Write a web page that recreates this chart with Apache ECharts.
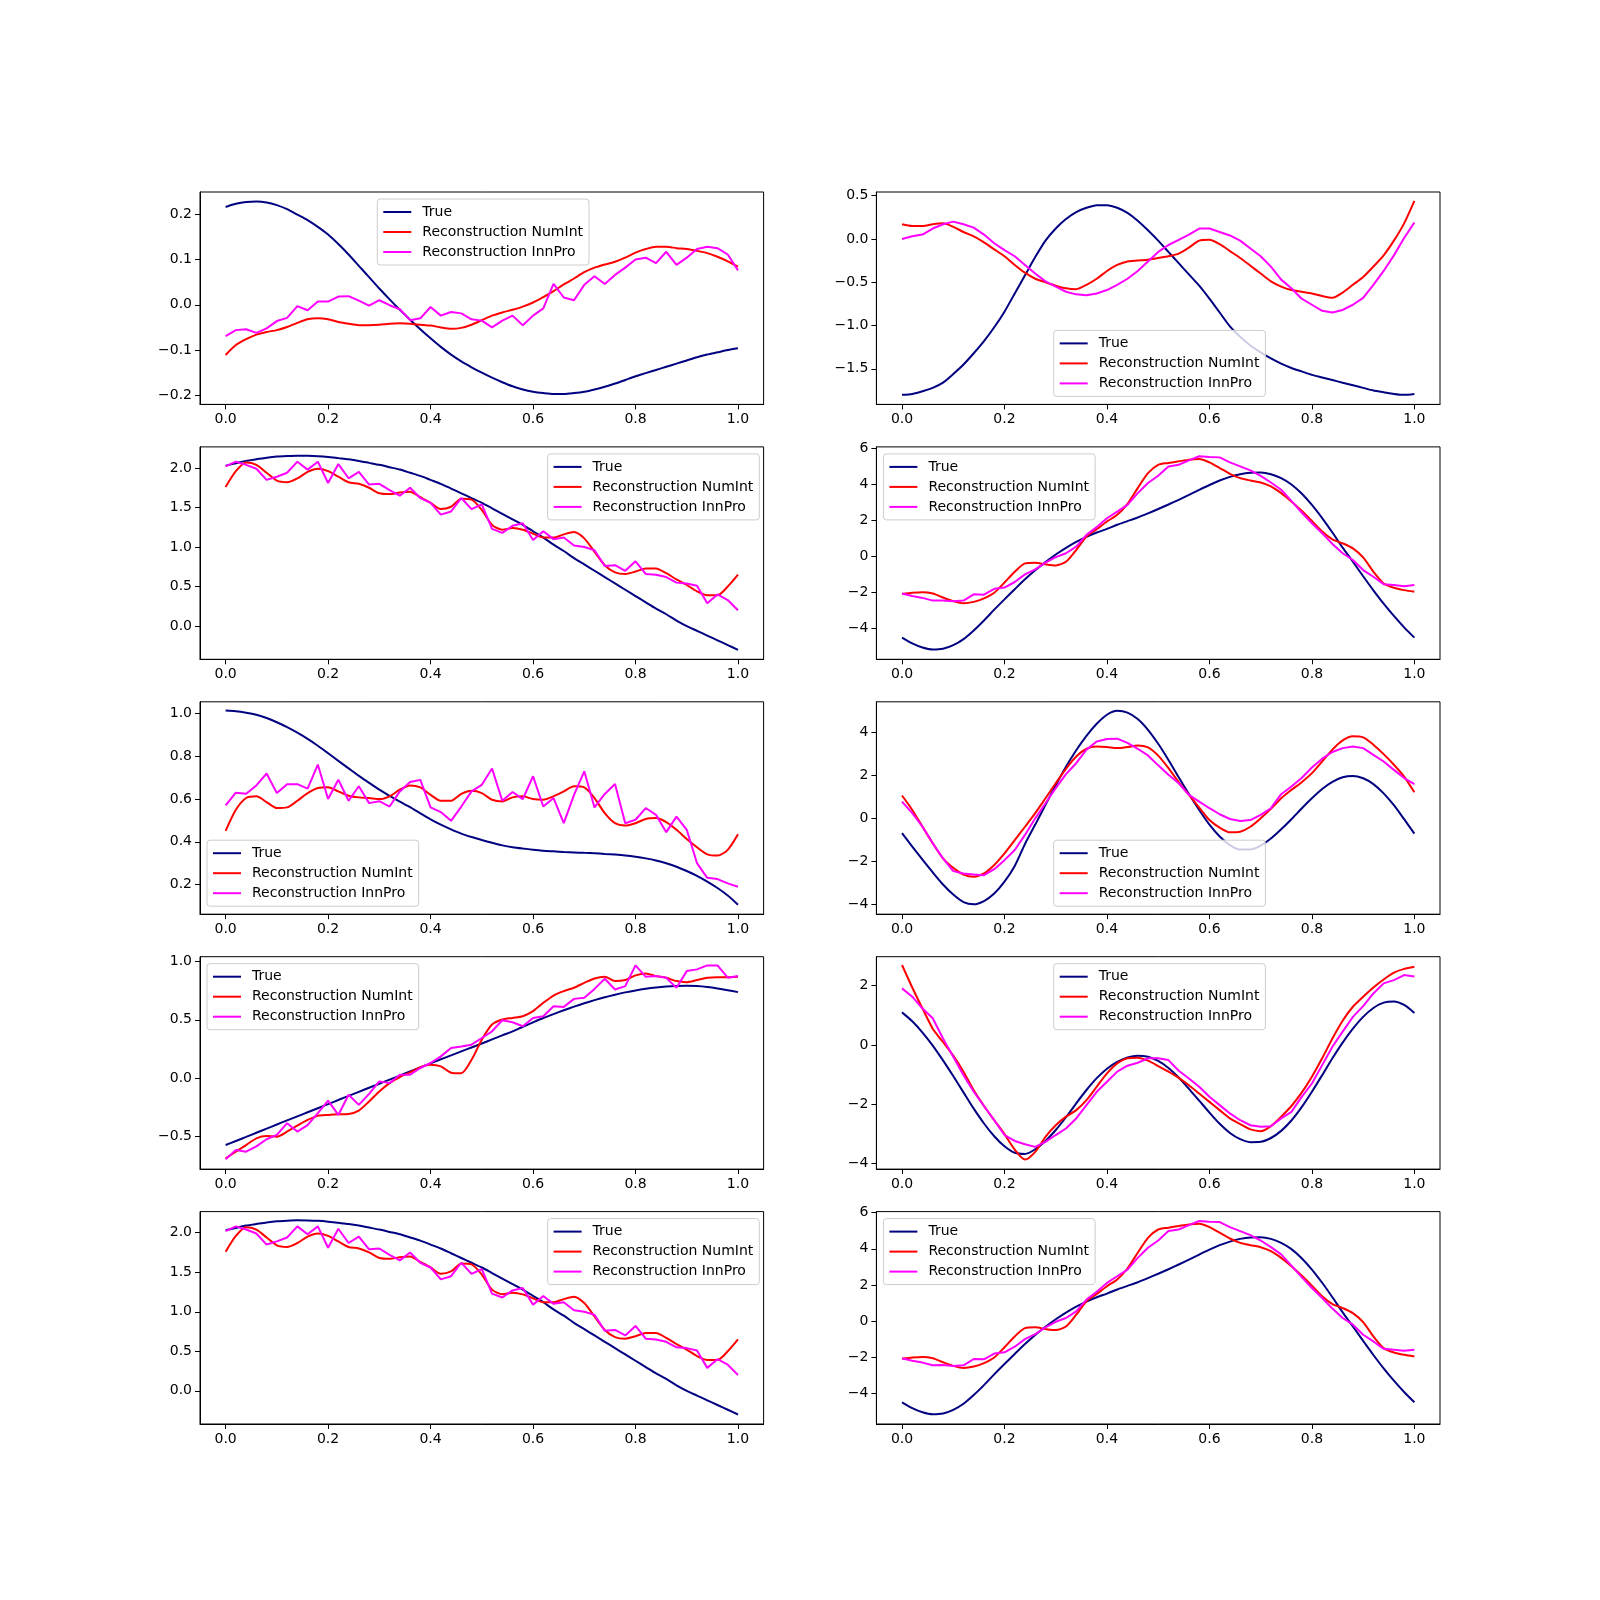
<!DOCTYPE html>
<html>
<head>
<meta charset="utf-8">
<script src="https://cdn.jsdelivr.net/npm/echarts@6/dist/echarts.min.js"></script>
<style>
html, body { margin: 0; padding: 0; background: #fff; }
#chart { width: 1600px; height: 1600px; }
</style>
</head>
<body>
<div id="chart"></div>
<script>
// sample positions shared by every curve
var xs = [0, 0.02, 0.04, 0.06, 0.08, 0.1, 0.12, 0.14, 0.16, 0.18, 0.2, 0.22, 0.24, 0.26, 0.28, 0.3, 0.32, 0.34, 0.36, 0.38,
  0.4, 0.42, 0.44, 0.46, 0.48, 0.5, 0.52, 0.54, 0.56, 0.58, 0.6, 0.62, 0.64, 0.66, 0.68, 0.7, 0.72, 0.74, 0.76, 0.78,
  0.8, 0.82, 0.84, 0.86, 0.88, 0.9, 0.92, 0.94, 0.96, 0.98, 1.0];

// row 1 left
var trueA = [0.216, 0.223, 0.227, 0.228, 0.226, 0.220, 0.211, 0.199, 0.187, 0.172, 0.155, 0.134, 0.111, 0.086, 0.061, 0.036, 0.012, -0.011, -0.033, -0.054,
  -0.074, -0.093, -0.110, -0.125, -0.138, -0.150, -0.161, -0.171, -0.180, -0.187, -0.192, -0.195, -0.197, -0.197, -0.195, -0.192, -0.187, -0.181, -0.174, -0.166,
  -0.158, -0.151, -0.144, -0.137, -0.130, -0.123, -0.116, -0.110, -0.105, -0.100, -0.096];
var numIntA = [-0.111, -0.089, -0.076, -0.066, -0.060, -0.056, -0.049, -0.040, -0.032, -0.030, -0.032, -0.038, -0.042, -0.045, -0.045, -0.044, -0.042, -0.041, -0.042, -0.044,
  -0.046, -0.050, -0.053, -0.051, -0.044, -0.034, -0.024, -0.017, -0.011, -0.004, 0.005, 0.017, 0.030, 0.045, 0.058, 0.072, 0.082, 0.089, 0.095, 0.104,
  0.115, 0.123, 0.128, 0.128, 0.125, 0.123, 0.119, 0.114, 0.106, 0.096, 0.084];
var innProA = [-0.069, -0.056, -0.054, -0.062, -0.052, -0.036, -0.029, -0.003, -0.012, 0.007, 0.007, 0.018, 0.019, 0.009, -0.002, 0.010, -0.001, -0.010, -0.034, -0.030,
  -0.005, -0.024, -0.016, -0.019, -0.032, -0.035, -0.050, -0.035, -0.024, -0.045, -0.024, -0.008, 0.046, 0.016, 0.010, 0.044, 0.063, 0.046, 0.066, 0.082,
  0.100, 0.104, 0.092, 0.117, 0.088, 0.104, 0.123, 0.128, 0.125, 0.111, 0.076];

// row 1 right
var trueB = [-1.80, -1.79, -1.76, -1.72, -1.66, -1.56, -1.45, -1.32, -1.18, -1.02, -0.84, -0.63, -0.42, -0.21, -0.02, 0.12, 0.23, 0.31, 0.36, 0.39,
  0.39, 0.36, 0.30, 0.21, 0.10, -0.02, -0.15, -0.28, -0.41, -0.54, -0.69, -0.85, -1.01, -1.13, -1.23, -1.31, -1.38, -1.44, -1.49, -1.53,
  -1.57, -1.60, -1.63, -1.66, -1.69, -1.72, -1.75, -1.77, -1.79, -1.80, -1.79];
var numIntB = [0.17, 0.15, 0.15, 0.17, 0.18, 0.14, 0.08, 0.03, -0.04, -0.12, -0.20, -0.30, -0.39, -0.46, -0.50, -0.54, -0.57, -0.58, -0.53, -0.46,
  -0.37, -0.30, -0.26, -0.25, -0.24, -0.22, -0.20, -0.17, -0.10, -0.02, -0.01, -0.06, -0.14, -0.22, -0.31, -0.40, -0.49, -0.55, -0.59, -0.61,
  -0.63, -0.66, -0.68, -0.62, -0.53, -0.44, -0.32, -0.19, -0.02, 0.18, 0.44];
var innProB = [0.00, 0.03, 0.05, 0.12, 0.17, 0.20, 0.17, 0.13, 0.05, -0.05, -0.13, -0.20, -0.30, -0.40, -0.49, -0.55, -0.61, -0.64, -0.65, -0.63,
  -0.59, -0.53, -0.46, -0.37, -0.26, -0.15, -0.07, -0.01, 0.05, 0.12, 0.12, 0.08, 0.04, -0.02, -0.11, -0.20, -0.32, -0.47, -0.57, -0.69,
  -0.76, -0.83, -0.85, -0.82, -0.76, -0.68, -0.53, -0.37, -0.19, 0.01, 0.19];

// row 2 left (repeated in row 5)
var trueC = [2.03, 2.06, 2.09, 2.11, 2.13, 2.145, 2.152, 2.156, 2.155, 2.15, 2.14, 2.125, 2.11, 2.09, 2.065, 2.04, 2.01, 1.98, 1.94, 1.90,
  1.85, 1.80, 1.74, 1.68, 1.62, 1.56, 1.49, 1.42, 1.35, 1.28, 1.20, 1.12, 1.03, 0.95, 0.86, 0.78, 0.70, 0.62, 0.54, 0.46,
  0.38, 0.30, 0.22, 0.15, 0.07, 0.00, -0.06, -0.12, -0.18, -0.24, -0.30];
var numIntC = [1.76, 1.96, 2.07, 2.04, 1.94, 1.84, 1.82, 1.87, 1.95, 1.99, 1.96, 1.89, 1.82, 1.80, 1.75, 1.68, 1.67, 1.69, 1.70, 1.63,
  1.56, 1.48, 1.51, 1.61, 1.60, 1.47, 1.28, 1.22, 1.24, 1.22, 1.17, 1.12, 1.12, 1.16, 1.19, 1.11, 0.94, 0.77, 0.68, 0.66,
  0.69, 0.73, 0.73, 0.67, 0.59, 0.52, 0.44, 0.39, 0.39, 0.50, 0.65];
var innProC = [2.02, 2.08, 2.04, 1.99, 1.85, 1.89, 1.94, 2.08, 1.98, 2.08, 1.81, 2.05, 1.87, 1.95, 1.79, 1.80, 1.72, 1.65, 1.75, 1.62,
  1.56, 1.41, 1.45, 1.62, 1.48, 1.54, 1.23, 1.18, 1.27, 1.30, 1.09, 1.20, 1.10, 1.12, 1.02, 1.00, 0.96, 0.76, 0.77, 0.70,
  0.82, 0.66, 0.65, 0.62, 0.55, 0.54, 0.51, 0.29, 0.40, 0.33, 0.20];

// row 2 right (repeated in row 5)
var trueD = [-4.50, -4.82, -5.05, -5.16, -5.12, -4.92, -4.58, -4.10, -3.55, -2.95, -2.38, -1.82, -1.27, -0.77, -0.32, 0.10, 0.47, 0.80, 1.08, 1.32,
  1.52, 1.75, 1.95, 2.15, 2.38, 2.62, 2.87, 3.13, 3.40, 3.68, 3.95, 4.20, 4.40, 4.55, 4.63, 4.64, 4.55, 4.33, 3.98, 3.48,
  2.85, 2.12, 1.32, 0.48, -0.30, -1.10, -1.88, -2.62, -3.30, -3.93, -4.50];
var numIntD = [-2.09, -2.02, -1.99, -2.06, -2.28, -2.48, -2.60, -2.52, -2.33, -2.02, -1.45, -0.85, -0.39, -0.35, -0.44, -0.50, -0.30, 0.35, 1.10, 1.50,
  1.93, 2.30, 2.91, 3.78, 4.61, 5.07, 5.17, 5.26, 5.35, 5.39, 5.20, 4.89, 4.57, 4.33, 4.20, 4.09, 3.87, 3.50, 3.04, 2.52,
  1.96, 1.37, 0.94, 0.72, 0.44, -0.06, -0.85, -1.50, -1.74, -1.87, -1.96];
var innProD = [-2.06, -2.20, -2.30, -2.45, -2.44, -2.49, -2.45, -2.10, -2.12, -1.80, -1.73, -1.42, -1.00, -0.72, -0.35, -0.04, 0.17, 0.54, 1.19, 1.62,
  2.11, 2.48, 2.85, 3.50, 4.06, 4.46, 4.98, 5.07, 5.31, 5.54, 5.50, 5.48, 5.20, 4.98, 4.76, 4.46, 4.09, 3.69, 3.07, 2.43,
  1.83, 1.28, 0.69, 0.17, -0.20, -0.76, -1.13, -1.54, -1.59, -1.65, -1.59];

// row 3 left
var trueE = [1.015, 1.012, 1.005, 0.995, 0.980, 0.960, 0.937, 0.911, 0.882, 0.850, 0.815, 0.779, 0.744, 0.709, 0.676, 0.644, 0.615, 0.588, 0.562, 0.533,
  0.505, 0.480, 0.458, 0.438, 0.422, 0.408, 0.395, 0.383, 0.374, 0.368, 0.363, 0.358, 0.355, 0.352, 0.350, 0.348, 0.346, 0.343, 0.340, 0.336,
  0.330, 0.322, 0.312, 0.299, 0.283, 0.263, 0.240, 0.213, 0.183, 0.148, 0.105];
var numIntE = [0.451, 0.55, 0.605, 0.613, 0.586, 0.558, 0.561, 0.592, 0.628, 0.652, 0.656, 0.636, 0.616, 0.608, 0.605, 0.60, 0.613, 0.644, 0.664, 0.655,
  0.62, 0.592, 0.592, 0.624, 0.639, 0.628, 0.597, 0.589, 0.608, 0.613, 0.60, 0.597, 0.613, 0.636, 0.66, 0.655, 0.605, 0.534, 0.487, 0.476,
  0.487, 0.507, 0.511, 0.492, 0.456, 0.413, 0.374, 0.341, 0.335, 0.362, 0.435];
var innProE = [0.57, 0.63, 0.625, 0.664, 0.72, 0.628, 0.67, 0.67, 0.649, 0.762, 0.60, 0.691, 0.592, 0.66, 0.581, 0.59, 0.565, 0.636, 0.68, 0.69,
  0.561, 0.539, 0.498, 0.565, 0.636, 0.667, 0.743, 0.592, 0.633, 0.60, 0.707, 0.565, 0.605, 0.487, 0.62, 0.73, 0.561, 0.624, 0.671, 0.487,
  0.503, 0.558, 0.526, 0.445, 0.518, 0.456, 0.30, 0.231, 0.225, 0.205, 0.189];

// row 3 right
var trueF = [-0.70, -1.32, -1.93, -2.52, -3.08, -3.55, -3.90, -4.00, -3.85, -3.50, -2.95, -2.22, -1.20, -0.30, 0.62, 1.52, 2.38, 3.15, 3.82, 4.38,
  4.80, 4.98, 4.90, 4.60, 4.10, 3.45, 2.70, 1.90, 1.12, 0.38, -0.30, -0.85, -1.25, -1.46, -1.46, -1.28, -0.95, -0.52, -0.05, 0.45,
  0.92, 1.35, 1.68, 1.90, 1.96, 1.85, 1.58, 1.15, 0.60, -0.05, -0.72];
var numIntF = [1.05, 0.38, -0.40, -1.17, -1.87, -2.31, -2.62, -2.72, -2.57, -2.18, -1.64, -1.02, -0.40, 0.23, 0.92, 1.62, 2.29, 2.86, 3.22, 3.33,
  3.30, 3.25, 3.30, 3.37, 3.28, 2.90, 2.32, 1.67, 1.08, 0.49, -0.09, -0.44, -0.66, -0.63, -0.40, -0.01, 0.43, 0.92, 1.31, 1.67,
  2.09, 2.63, 3.18, 3.61, 3.80, 3.75, 3.41, 2.97, 2.48, 1.93, 1.20];
var innProF = [0.77, 0.23, -0.40, -1.17, -1.87, -2.46, -2.57, -2.62, -2.65, -2.37, -1.95, -1.48, -0.78, -0.01, 0.69, 1.39, 2.04, 2.55, 3.18, 3.56,
  3.67, 3.69, 3.49, 3.22, 2.91, 2.45, 2.01, 1.62, 1.08, 0.77, 0.46, 0.18, -0.04, -0.13, -0.09, 0.15, 0.46, 1.11, 1.47, 1.86,
  2.35, 2.76, 3.07, 3.25, 3.33, 3.25, 2.94, 2.63, 2.24, 1.86, 1.58];

// row 4 left
var trueG = [-0.578, -0.543, -0.508, -0.472, -0.437, -0.401, -0.366, -0.331, -0.296, -0.261, -0.226, -0.190, -0.155, -0.120, -0.085, -0.050, -0.015, 0.020, 0.055, 0.090,
  0.125, 0.160, 0.194, 0.228, 0.262, 0.296, 0.331, 0.366, 0.40, 0.44, 0.478, 0.515, 0.549, 0.582, 0.613, 0.642, 0.669, 0.694, 0.716, 0.736,
  0.753, 0.767, 0.778, 0.786, 0.791, 0.793, 0.790, 0.782, 0.770, 0.755, 0.738];
var numIntG = [-0.692, -0.635, -0.578, -0.52, -0.50, -0.506, -0.462, -0.411, -0.362, -0.327, -0.319, -0.313, -0.31, -0.281, -0.203, -0.117, -0.045, 0.007, 0.047, 0.093,
  0.113, 0.099, 0.045, 0.040, 0.156, 0.329, 0.459, 0.502, 0.516, 0.531, 0.574, 0.646, 0.709, 0.747, 0.776, 0.818, 0.856, 0.87, 0.833, 0.842,
  0.882, 0.899, 0.876, 0.862, 0.833, 0.824, 0.842, 0.862, 0.867, 0.867, 0.87];
var innProG = [-0.70, -0.62, -0.635, -0.59, -0.528, -0.49, -0.39, -0.462, -0.407, -0.304, -0.195, -0.319, -0.145, -0.232, -0.137, -0.03, -0.045, 0.027, 0.027, 0.085,
  0.128, 0.185, 0.257, 0.271, 0.286, 0.343, 0.401, 0.496, 0.479, 0.444, 0.516, 0.531, 0.617, 0.611, 0.68, 0.689, 0.766, 0.853, 0.761, 0.79,
  0.968, 0.87, 0.876, 0.862, 0.775, 0.919, 0.934, 0.968, 0.968, 0.862, 0.876];

// row 4 right
var trueH = [1.10, 0.80, 0.42, -0.02, -0.52, -1.05, -1.60, -2.15, -2.65, -3.08, -3.42, -3.64, -3.68, -3.52, -3.24, -2.87, -2.44, -1.97, -1.52, -1.12,
  -0.80, -0.57, -0.42, -0.36, -0.40, -0.54, -0.78, -1.10, -1.48, -1.88, -2.28, -2.66, -2.97, -3.18, -3.28, -3.27, -3.14, -2.90, -2.55, -2.10,
  -1.58, -1.02, -0.45, 0.08, 0.55, 0.95, 1.25, 1.43, 1.47, 1.35, 1.08];
var numIntH = [2.70, 1.94, 1.23, 0.55, 0.10, -0.36, -0.90, -1.53, -2.06, -2.54, -3.01, -3.53, -3.87, -3.61, -3.10, -2.71, -2.42, -2.20, -1.86, -1.41,
  -0.96, -0.62, -0.45, -0.43, -0.53, -0.71, -0.90, -1.11, -1.36, -1.64, -1.92, -2.20, -2.48, -2.67, -2.85, -2.91, -2.74, -2.42, -2.06, -1.61,
  -1.07, -0.45, 0.22, 0.82, 1.29, 1.63, 1.94, 2.21, 2.44, 2.57, 2.64];
var innProH = [1.91, 1.63, 1.23, 0.90, 0.22, -0.40, -1.02, -1.58, -2.06, -2.54, -3.04, -3.24, -3.35, -3.44, -3.27, -3.04, -2.82, -2.48, -2.03, -1.58,
  -1.24, -0.90, -0.70, -0.60, -0.45, -0.45, -0.51, -0.87, -1.13, -1.41, -1.75, -2.03, -2.31, -2.54, -2.71, -2.76, -2.74, -2.48, -2.26, -1.75,
  -1.30, -0.68, -0.06, 0.45, 0.95, 1.31, 1.74, 2.08, 2.19, 2.36, 2.31];

// tick labels
var xTicks = [0, 0.2, 0.4, 0.6, 0.8, 1.0];
var yTicksA = [-0.2, -0.1, 0, 0.1, 0.2];
var yTicksB = [-1.5, -1.0, -0.5, 0, 0.5];
var yTicksC = [0, 0.5, 1.0, 1.5, 2.0];
var yTicksD = [-4, -2, 0, 2, 4, 6];
var yTicksE = [0.2, 0.4, 0.6, 0.8, 1.0];
var yTicksF = [-4, -2, 0, 2, 4];
var yTicksG = [-0.5, 0, 0.5, 1.0];
var yTicksH = [-4, -2, 0, 2];

var names = ['True', 'Reconstruction NumInt', 'Reconstruction InnPro'];
var colors = ['#000080', '#ff0000', '#ff00ff'];

var panels = [
  { lines: [trueA, numIntA, innProA], ylim: [-0.220, 0.249], ticks: yTicksA, dec: 1, loc: 'upper center' },
  { lines: [trueB, numIntB, innProB], ylim: [-1.911, 0.542], ticks: yTicksB, dec: 1, loc: 'lower center' },
  { lines: [trueC, numIntC, innProC], ylim: [-0.42, 2.267], ticks: yTicksC, dec: 1, loc: 'upper right' },
  { lines: [trueD, numIntD, innProD], ylim: [-5.70, 6.06], ticks: yTicksD, dec: 0, loc: 'upper left' },
  { lines: [trueE, numIntE, innProE], ylim: [0.0604, 1.056], ticks: yTicksE, dec: 1, loc: 'lower left' },
  { lines: [trueF, numIntF, innProF], ylim: [-4.46, 5.40], ticks: yTicksF, dec: 0, loc: 'lower center' },
  { lines: [trueG, numIntG, innProG], ylim: [-0.785, 1.043], ticks: yTicksG, dec: 1, loc: 'upper left' },
  { lines: [trueH, numIntH, innProH], ylim: [-4.19, 2.98], ticks: yTicksH, dec: 0, loc: 'upper center' },
  { lines: [trueC, numIntC, innProC], ylim: [-0.42, 2.267], ticks: yTicksC, dec: 1, loc: 'upper right' },
  { lines: [trueD, numIntD, innProD], ylim: [-5.70, 6.06], ticks: yTicksD, dec: 0, loc: 'upper left' }
];

var colLeft = [200, 876.4];
var rowTop = [192, 446.9, 701.8, 956.7, 1211.6];
var W = 563.6, H = 212.4;
var legW = 209, legH = 67, legPad = 7;
var font = 'DejaVu Sans';

function pairs(vals) {
  return xs.map(function (x, i) { return [x, vals[i]]; });
}
function fmt(dec) {
  return function (v) { return Number(v).toFixed(dec).replace('-', '\u2212'); };
}

var option = {
  animation: false,
  backgroundColor: '#ffffff',
  grid: [], xAxis: [], yAxis: [], series: [], legend: []
};

panels.forEach(function (p, i) {
  var gx = colLeft[i % 2], gy = rowTop[Math.floor(i / 2)];
  option.grid.push({
    left: gx, top: gy, width: W, height: H,
    show: true, borderColor: '#000', borderWidth: 1, backgroundColor: 'transparent'
  });
  option.xAxis.push({
    gridIndex: i, type: 'value', min: -0.05, max: 1.05,
    axisLine: { show: true, onZero: false, lineStyle: { color: '#000', width: 1 } },
    axisTick: { show: true, length: 5, customValues: xTicks, lineStyle: { color: '#000' } },
    axisLabel: { customValues: xTicks, formatter: fmt(1), margin: 8, fontSize: 14, color: '#000', fontFamily: font },
    splitLine: { show: false }
  });
  option.yAxis.push({
    gridIndex: i, type: 'value', min: p.ylim[0], max: p.ylim[1],
    axisLine: { show: true, onZero: false, lineStyle: { color: '#000', width: 1 } },
    axisTick: { show: true, length: 5, customValues: p.ticks, lineStyle: { color: '#000' } },
    axisLabel: { customValues: p.ticks, formatter: fmt(p.dec), margin: 8, fontSize: 14, color: '#000', fontFamily: font },
    splitLine: { show: false }
  });
  p.lines.forEach(function (vals, k) {
    option.series.push({
      name: names[k], type: 'line', xAxisIndex: i, yAxisIndex: i,
      data: pairs(vals), showSymbol: false, symbol: 'none',
      smooth: k < 2 ? 0.25 : false,
      lineStyle: { color: colors[k], width: 2 },
      itemStyle: { color: colors[k] }
    });
  });

  var leg = {
    orient: 'vertical', data: names, icon: 'rect',
    itemWidth: 28, itemHeight: 2, itemGap: 4,
    padding: [5, 6, 5, 6],
    backgroundColor: 'rgba(255,255,255,0.8)', borderColor: '#cccccc', borderWidth: 1, borderRadius: 3,
    textStyle: { fontFamily: font, fontSize: 14, color: '#000', lineHeight: 16, padding: [0, 0, 0, 6] },
    selectedMode: false
  };
  leg.top = p.loc.indexOf('upper') === 0 ? gy + legPad : gy + H - legPad - legH;
  if (p.loc.indexOf('left') > 0) leg.left = gx + legPad;
  else if (p.loc.indexOf('right') > 0) leg.left = gx + W - legPad - legW;
  else leg.left = gx + W / 2 - legW / 2;
  option.legend.push(leg);
});

var chart = echarts.init(document.getElementById('chart'));
chart.setOption(option);
</script>
</body>
</html>
